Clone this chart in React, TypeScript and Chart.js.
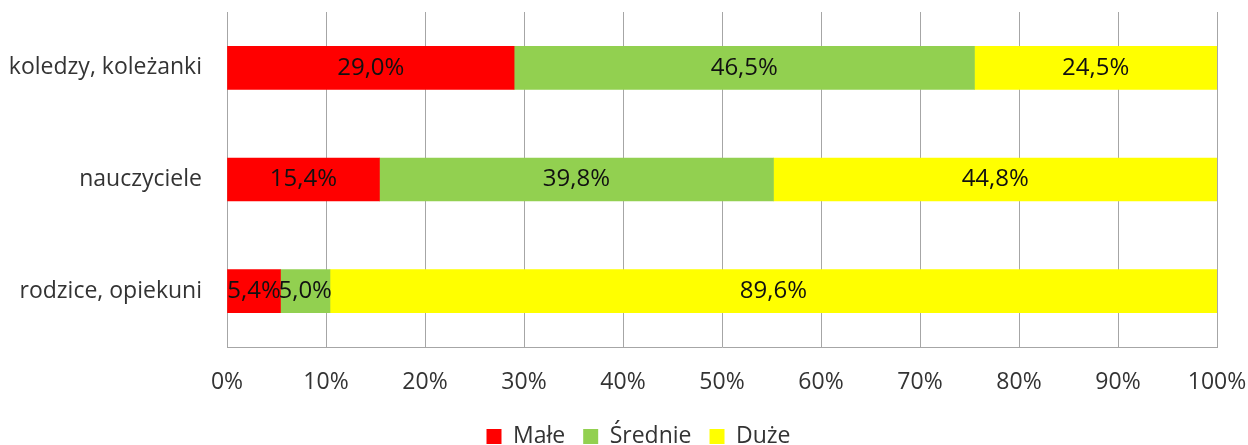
import React, { useEffect, useRef } from "react";
import { Chart, registerables } from "chart.js";

Chart.register(...registerables);

const categories = ["koledzy, koleżanki", "nauczyciele", "rodzice, opiekuni"];
const seriesNames = ["Małe", "Średnie", "Duże"];
const male = [29.0, 15.4, 5.4];
const srednie = [46.5, 39.8, 5.0];
const duze = [24.5, 44.8, 89.6];
const seriesColors = ["#ff0000", "#92d050", "#ffff00"];
const xTicks = [0, 10, 20, 30, 40, 50, 60, 70, 80, 90, 100];

const FONT = "'Open Sans', sans-serif";
const AXIS_SIZE = 23;
const LABEL_SIZE = 24;

const labelPlugin = {
  id: "segLabels",
  afterDatasetsDraw(chart: any) {
    const ctx = chart.ctx;
    ctx.save();
    ctx.font = `${LABEL_SIZE}px ${FONT}`;
    ctx.fillStyle = "#111111";
    ctx.textAlign = "center";
    ctx.textBaseline = "middle";
    chart.data.datasets.forEach((ds: any, di: number) => {
      const meta = chart.getDatasetMeta(di);
      meta.data.forEach((el: any, i: number) => {
        const v = ds.data[i];
        const cx = (el.x + el.base) / 2;
        ctx.fillText(v.toFixed(1).replace(".", ",") + "%", cx, el.y);
      });
    });
    ctx.restore();
  },
};

const legendShift = {
  id: "legendShift",
  afterLayout(chart: any) {
    if (chart.legend) {
      chart.legend.left += 60;
    }
  },
};

export default function App() {
  const ref = useRef<HTMLCanvasElement | null>(null);
  useEffect(() => {
    document.body.style.margin = "0";
    document.body.style.overflow = "hidden";
    const canvas = ref.current!;
    const seriesData = [male, srednie, duze];
    const chart = new Chart(canvas, {
      type: "bar",
      data: {
        labels: categories,
        datasets: seriesNames.map((name, i) => ({
          label: name,
          data: seriesData[i],
          backgroundColor: seriesColors[i],
          borderWidth: 0,
          barThickness: 43,
        })),
      },
      options: {
        indexAxis: "y",
        animation: false,
        responsive: false,
        devicePixelRatio: 1,
        layout: { padding: { top: 12, right: 31, left: 0, bottom: 0 } },
        scales: {
          x: {
            stacked: true,
            min: 0,
            max: 100,
            afterFit: (s: any) => {
              s.height = 60;
            },
            afterBuildTicks: (s: any) => {
              s.ticks = xTicks.map((v) => ({ value: v }));
            },
            ticks: {
              callback: (v: any) => v + "%",
              font: { family: FONT, size: AXIS_SIZE, lineHeight: 1 },
              color: "#333333",
              padding: 0,
              maxRotation: 0,
            },
            grid: {
              color: "#a6a6a6",
              drawTicks: true,
              tickLength: 24,
              tickColor: "rgba(0,0,0,0)",
              lineWidth: 1,
            },
            border: { display: true, color: "#a6a6a6" },
          },
          y: {
            stacked: true,
            afterFit: (s: any) => {
              s.width = 227;
            },
            ticks: {
              font: { family: FONT, size: AXIS_SIZE, lineHeight: 1 },
              color: "#333333",
              padding: 0,
            },
            grid: {
              display: true,
              drawOnChartArea: false,
              drawTicks: true,
              tickLength: 25,
              color: "rgba(0,0,0,0)",
              tickColor: "rgba(0,0,0,0)",
            },
            border: { display: true, color: "#a6a6a6" },
          },
        },
        plugins: {
          legend: {
            position: "bottom",
            labels: {
              font: { family: FONT, size: AXIS_SIZE },
              color: "#333333",
              boxWidth: 15,
              boxHeight: 15,
              padding: 18,
            },
          },
          tooltip: { enabled: false },
        },
      },
      plugins: [labelPlugin, legendShift],
    });
    return () => chart.destroy();
  }, []);
  return (
    <div style={{ width: 1248, height: 445, overflow: "hidden" }}>
      <canvas ref={ref} width={1248} height={458} style={{ display: "block" }} />
    </div>
  );
}
